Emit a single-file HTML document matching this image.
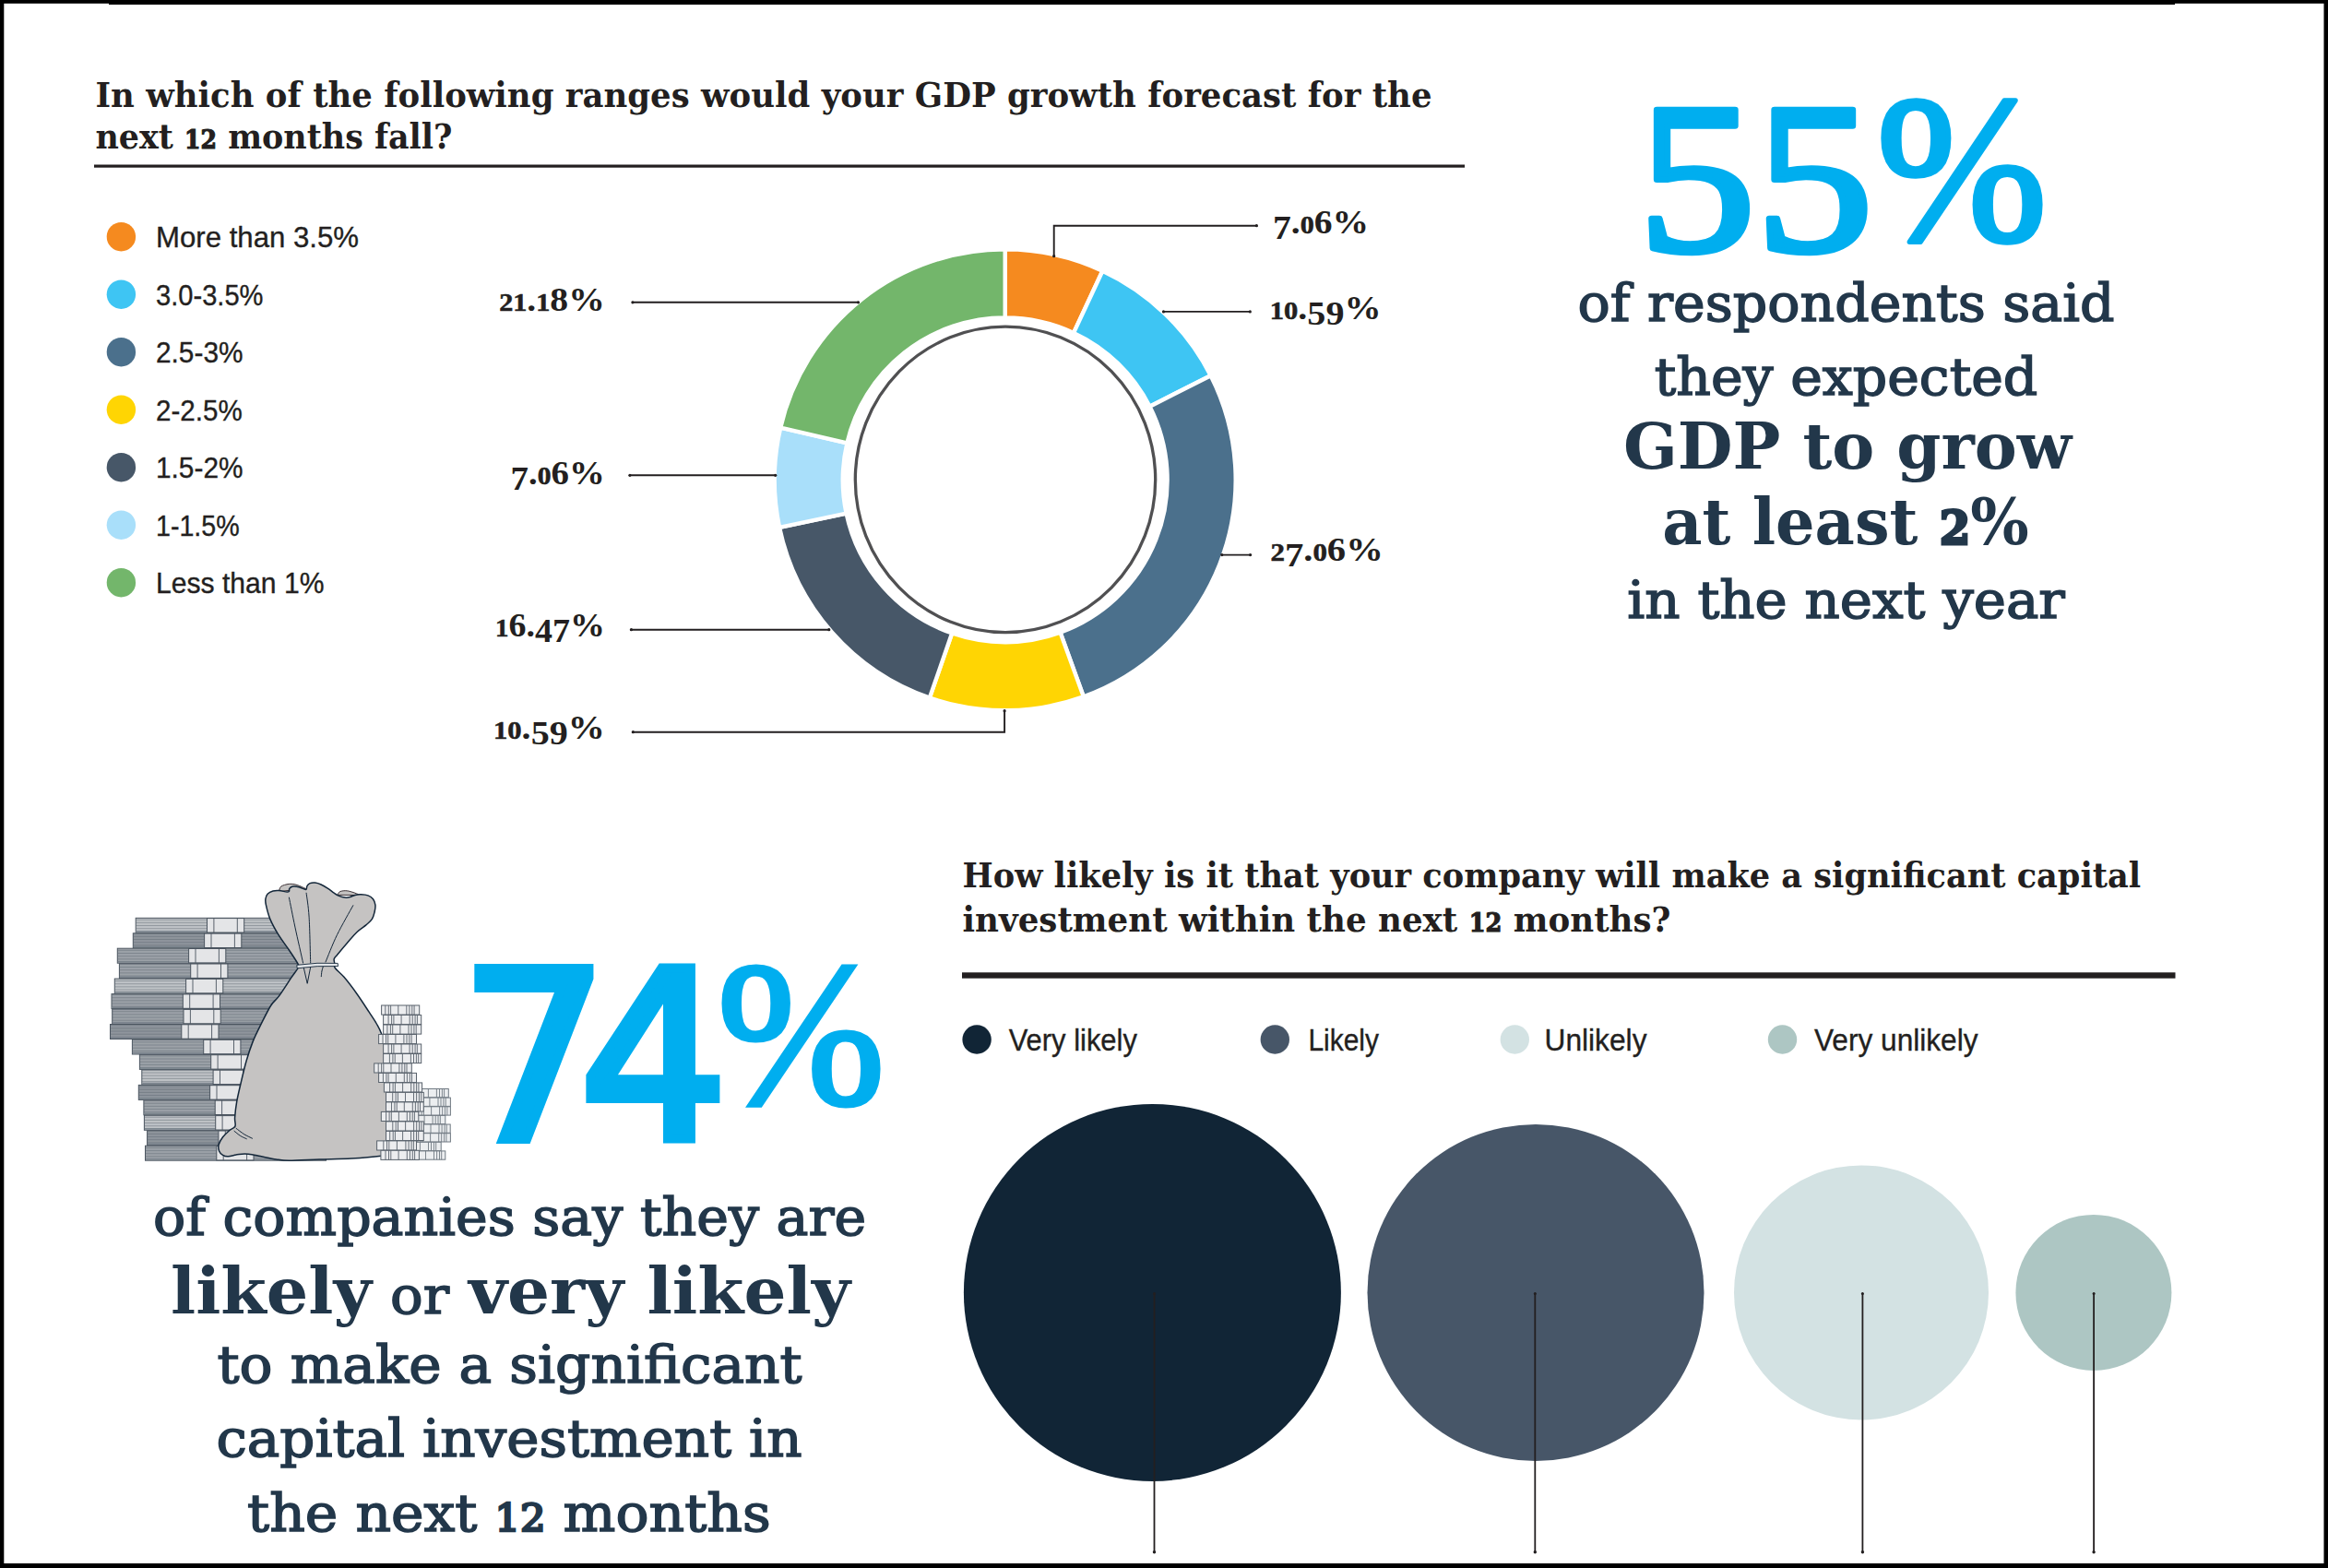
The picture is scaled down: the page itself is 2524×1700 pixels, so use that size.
<!DOCTYPE html>
<html lang="en"><head><meta charset="utf-8"><title>GDP growth forecast and capital investment survey</title>
<style>html,body{margin:0;padding:0;background:#fff}svg{display:block}text{white-space:pre}</style></head>
<body><svg width="2524" height="1700" viewBox="0 0 2524 1700">
<rect x="0" y="0" width="2524" height="1700" fill="#fff"/>
<rect x="0" y="0" width="2524" height="3.8" fill="#000"/><rect x="118" y="0" width="2240" height="5" fill="#000"/>
<rect x="0" y="0" width="4.3" height="1700" fill="#000"/>
<rect x="2519.5" y="0" width="4.5" height="1700" fill="#000"/>
<rect x="0" y="1695" width="2524" height="5" fill="#000"/>
<text x="103.5" y="116" font-size="37.7" font-family="'DejaVu Serif', 'Liberation Serif', serif" font-weight="bold" fill="#231f20" text-anchor="start" textLength="1449" lengthAdjust="spacingAndGlyphs" >In which of the following ranges would your GDP growth forecast for the</text>
<text x="103.5" y="161" font-size="37.7" font-family="'DejaVu Serif', 'Liberation Serif', serif" font-weight="bold" fill="#231f20" text-anchor="start" textLength="387" lengthAdjust="spacingAndGlyphs" >next <tspan font-size="27.1" stroke="#231f20" stroke-width="1.2">12</tspan> months fall?</text>
<rect x="102" y="178.5" width="1486" height="3.2" fill="#231f20"/>
<circle cx="131.4" cy="256.7" r="15.7" fill="#f58a1f"/>
<text x="169" y="268.0" font-size="31.5" font-family="'Liberation Sans', sans-serif" font-weight="normal" fill="#231f20" text-anchor="start" textLength="220" lengthAdjust="spacingAndGlyphs" stroke="#231f20" stroke-width="0.35">More than 3.5%</text>
<circle cx="131.4" cy="319.2" r="15.7" fill="#3ec5f3"/>
<text x="169" y="330.5" font-size="31.5" font-family="'Liberation Sans', sans-serif" font-weight="normal" fill="#231f20" text-anchor="start" textLength="116.5" lengthAdjust="spacingAndGlyphs" stroke="#231f20" stroke-width="0.35">3.0-3.5%</text>
<circle cx="131.4" cy="381.7" r="15.7" fill="#4b708c"/>
<text x="169" y="393.0" font-size="31.5" font-family="'Liberation Sans', sans-serif" font-weight="normal" fill="#231f20" text-anchor="start" textLength="94.5" lengthAdjust="spacingAndGlyphs" stroke="#231f20" stroke-width="0.35">2.5-3%</text>
<circle cx="131.4" cy="444.2" r="15.7" fill="#ffd503"/>
<text x="169" y="455.5" font-size="31.5" font-family="'Liberation Sans', sans-serif" font-weight="normal" fill="#231f20" text-anchor="start" textLength="93.7" lengthAdjust="spacingAndGlyphs" stroke="#231f20" stroke-width="0.35">2-2.5%</text>
<circle cx="131.4" cy="506.7" r="15.7" fill="#475768"/>
<text x="169" y="518.0" font-size="31.5" font-family="'Liberation Sans', sans-serif" font-weight="normal" fill="#231f20" text-anchor="start" textLength="94.5" lengthAdjust="spacingAndGlyphs" stroke="#231f20" stroke-width="0.35">1.5-2%</text>
<circle cx="131.4" cy="569.2" r="15.7" fill="#a9dffa"/>
<text x="169" y="580.5" font-size="31.5" font-family="'Liberation Sans', sans-serif" font-weight="normal" fill="#231f20" text-anchor="start" textLength="90.7" lengthAdjust="spacingAndGlyphs" stroke="#231f20" stroke-width="0.35">1-1.5%</text>
<circle cx="131.4" cy="631.7" r="15.7" fill="#73b66b"/>
<text x="169" y="643.0" font-size="31.5" font-family="'Liberation Sans', sans-serif" font-weight="normal" fill="#231f20" text-anchor="start" textLength="182.5" lengthAdjust="spacingAndGlyphs" stroke="#231f20" stroke-width="0.35">Less than 1%</text>
<path d="M1089.70,270.30 A250.0,250.0 0 0 1 1195.35,293.72 L1164.04,360.88 A175.9,175.9 0 0 0 1089.70,344.40 Z" fill="#f58a1f" stroke="#fff" stroke-width="4.4" stroke-linejoin="miter"/>
<path d="M1195.35,293.72 A250.0,250.0 0 0 1 1312.65,407.19 L1246.57,440.72 A175.9,175.9 0 0 0 1164.04,360.88 Z" fill="#3ec5f3" stroke="#fff" stroke-width="4.4" stroke-linejoin="miter"/>
<path d="M1312.65,407.19 A250.0,250.0 0 0 1 1174.79,755.37 L1149.57,685.70 A175.9,175.9 0 0 0 1246.57,440.72 Z" fill="#4b708c" stroke="#fff" stroke-width="4.4" stroke-linejoin="miter"/>
<path d="M1174.79,755.37 A250.0,250.0 0 0 1 1007.90,756.54 L1032.14,686.52 A175.9,175.9 0 0 0 1149.57,685.70 Z" fill="#ffd503" stroke="#fff" stroke-width="4.4" stroke-linejoin="miter"/>
<path d="M1007.90,756.54 A250.0,250.0 0 0 1 845.07,571.85 L917.58,556.57 A175.9,175.9 0 0 0 1032.14,686.52 Z" fill="#475768" stroke="#fff" stroke-width="4.4" stroke-linejoin="miter"/>
<path d="M845.07,571.85 A250.0,250.0 0 0 1 846.21,463.64 L918.38,480.43 A175.9,175.9 0 0 0 917.58,556.57 Z" fill="#a9dffa" stroke="#fff" stroke-width="4.4" stroke-linejoin="miter"/>
<path d="M846.21,463.64 A250.0,250.0 0 0 1 1089.70,270.30 L1089.70,344.40 A175.9,175.9 0 0 0 918.38,480.43 Z" fill="#73b66b" stroke="#fff" stroke-width="4.4" stroke-linejoin="miter"/>
<ellipse cx="1090" cy="519.9" rx="162.7" ry="165.75" fill="#fff" stroke="#505052" stroke-width="3.3"/>
<path d="M1142.7,277.7 L1142.7,244.7 L1362.4,244.7" fill="none" stroke="#231f20" stroke-width="1.9" stroke-linecap="round" stroke-linejoin="miter"/>
<circle cx="1142.7" cy="277.7" r="1.6" fill="#231f20"/>
<circle cx="1362.4" cy="244.7" r="1.6" fill="#231f20"/>
<path d="M1261.5,337.9 L1355.3,337.9" fill="none" stroke="#231f20" stroke-width="1.9" stroke-linecap="round" stroke-linejoin="miter"/>
<circle cx="1261.5" cy="337.9" r="1.6" fill="#231f20"/>
<circle cx="1355.3" cy="337.9" r="1.6" fill="#231f20"/>
<path d="M1324.8,601.6 L1355.6,601.6" fill="none" stroke="#231f20" stroke-width="1.9" stroke-linecap="round" stroke-linejoin="miter"/>
<circle cx="1324.8" cy="601.6" r="1.6" fill="#231f20"/>
<circle cx="1355.6" cy="601.6" r="1.6" fill="#231f20"/>
<path d="M685.9,327.8 L930.5,327.8" fill="none" stroke="#231f20" stroke-width="1.9" stroke-linecap="round" stroke-linejoin="miter"/>
<circle cx="685.9" cy="327.8" r="1.6" fill="#231f20"/>
<circle cx="930.5" cy="327.8" r="1.6" fill="#231f20"/>
<path d="M682.9,515.3 L840.7,515.3" fill="none" stroke="#231f20" stroke-width="1.9" stroke-linecap="round" stroke-linejoin="miter"/>
<circle cx="682.9" cy="515.3" r="1.6" fill="#231f20"/>
<circle cx="840.7" cy="515.3" r="1.6" fill="#231f20"/>
<path d="M684.4,682.7 L898.8,682.7" fill="none" stroke="#231f20" stroke-width="1.9" stroke-linecap="round" stroke-linejoin="miter"/>
<circle cx="684.4" cy="682.7" r="1.6" fill="#231f20"/>
<circle cx="898.8" cy="682.7" r="1.6" fill="#231f20"/>
<path d="M1089.1,770.7 L1089.1,793.7 L686.3,793.7" fill="none" stroke="#231f20" stroke-width="1.9" stroke-linecap="round" stroke-linejoin="miter"/>
<circle cx="1089.1" cy="770.7" r="1.6" fill="#231f20"/>
<circle cx="686.3" cy="793.7" r="1.6" fill="#231f20"/>
<text x="1380" y="252.6" font-size="36" font-family="'Liberation Serif', serif" font-weight="bold" fill="#231f20" text-anchor="start" textLength="104" lengthAdjust="spacingAndGlyphs" ><tspan dy="6.08">7</tspan><tspan dy="-6.08">.</tspan><tspan font-size="27.4" stroke="#231f20" stroke-width="0.55">0</tspan>6%</text>
<text x="1376.8" y="346" font-size="36" font-family="'Liberation Serif', serif" font-weight="bold" fill="#231f20" text-anchor="start" textLength="120.8" lengthAdjust="spacingAndGlyphs" ><tspan font-size="27.4" stroke="#231f20" stroke-width="0.55">10</tspan>.<tspan dy="6.08">59</tspan><tspan dy="-6.08">%</tspan></text>
<text x="1377.5" y="608" font-size="36" font-family="'Liberation Serif', serif" font-weight="bold" fill="#231f20" text-anchor="start" textLength="122.3" lengthAdjust="spacingAndGlyphs" ><tspan font-size="27.4" stroke="#231f20" stroke-width="0.55">2</tspan><tspan dy="6.08">7</tspan><tspan dy="-6.08">.</tspan><tspan font-size="27.4" stroke="#231f20" stroke-width="0.55">0</tspan>6%</text>
<text x="541.2" y="336.9" font-size="36" font-family="'Liberation Serif', serif" font-weight="bold" fill="#231f20" text-anchor="start" textLength="114.6" lengthAdjust="spacingAndGlyphs" ><tspan font-size="27.4" stroke="#231f20" stroke-width="0.55">21</tspan>.<tspan font-size="27.4" stroke="#231f20" stroke-width="0.55">1</tspan>8%</text>
<text x="553.6" y="525.3" font-size="36" font-family="'Liberation Serif', serif" font-weight="bold" fill="#231f20" text-anchor="start" textLength="102.2" lengthAdjust="spacingAndGlyphs" ><tspan dy="6.08">7</tspan><tspan dy="-6.08">.</tspan><tspan font-size="27.4" stroke="#231f20" stroke-width="0.55">0</tspan>6%</text>
<text x="537" y="690.1" font-size="36" font-family="'Liberation Serif', serif" font-weight="bold" fill="#231f20" text-anchor="start" textLength="118.9" lengthAdjust="spacingAndGlyphs" ><tspan font-size="27.4" stroke="#231f20" stroke-width="0.55">1</tspan>6.<tspan dy="6.08">47</tspan><tspan dy="-6.08">%</tspan></text>
<text x="535.1" y="801.4" font-size="36" font-family="'Liberation Serif', serif" font-weight="bold" fill="#231f20" text-anchor="start" textLength="120.8" lengthAdjust="spacingAndGlyphs" ><tspan font-size="27.4" stroke="#231f20" stroke-width="0.55">10</tspan>.<tspan dy="6.08">59</tspan><tspan dy="-6.08">%</tspan></text>
<text y="272" font-size="233" font-family="'Liberation Serif', serif" fill="#00aeef" stroke="#00aeef" stroke-width="6.5" stroke-linejoin="round"><tspan x="1776" textLength="255" lengthAdjust="spacingAndGlyphs">55</tspan><tspan x="2034.5" y="260" font-size="226" stroke-width="5.5" textLength="185" lengthAdjust="spacingAndGlyphs">%</tspan></text>
<text x="2001.5" y="347.5" font-size="56.6" font-family="'DejaVu Serif', 'Liberation Serif', serif" font-weight="normal" fill="#22374a" text-anchor="middle" textLength="582" lengthAdjust="spacingAndGlyphs" stroke="#22374a" stroke-width="1.5">of respondents said</text>
<text x="2001.5" y="428.3" font-size="56.6" font-family="'DejaVu Serif', 'Liberation Serif', serif" font-weight="normal" fill="#22374a" text-anchor="middle" textLength="415.4" lengthAdjust="spacingAndGlyphs" stroke="#22374a" stroke-width="1.5">they expected</text>
<text x="2003" y="507.7" font-size="69" font-family="'DejaVu Serif', 'Liberation Serif', serif" font-weight="bold" fill="#22374a" text-anchor="middle" textLength="486" lengthAdjust="spacingAndGlyphs" >GDP to grow</text>
<text x="2001" y="589.8" font-size="69" font-family="'DejaVu Serif', 'Liberation Serif', serif" font-weight="bold" fill="#22374a" text-anchor="middle" textLength="397.6" lengthAdjust="spacingAndGlyphs" >at least <tspan font-size="49.7" stroke="#22374a" stroke-width="3.0">2</tspan>%</text>
<text x="2001.5" y="669.5" font-size="56.6" font-family="'DejaVu Serif', 'Liberation Serif', serif" font-weight="normal" fill="#22374a" text-anchor="middle" textLength="474.4" lengthAdjust="spacingAndGlyphs" stroke="#22374a" stroke-width="1.5">in the next year</text>
<text y="1235" fill="#00aeef" stroke="#00aeef" stroke-linejoin="miter"><tspan x="498.5 628" font-size="254" font-family="'DejaVu Sans', 'Liberation Sans', sans-serif" stroke-width="10">74</tspan><tspan x="777.5" y="1195.7" font-size="222" font-family="'Liberation Serif', serif" stroke-width="5" textLength="182" lengthAdjust="spacingAndGlyphs">%</tspan></text>
<text x="552.6" y="1338.6" font-size="56.6" font-family="'DejaVu Serif', 'Liberation Serif', serif" font-weight="normal" fill="#22374a" text-anchor="middle" textLength="773.2" lengthAdjust="spacingAndGlyphs" stroke="#22374a" stroke-width="1.5">of companies say they are</text>
<text y="1424" font-size="69" font-family="'DejaVu Serif', 'Liberation Serif', serif" fill="#22374a"><tspan x="185" font-weight="bold" textLength="218" lengthAdjust="spacingAndGlyphs">likely</tspan><tspan font-size="56.6" stroke="#22374a" stroke-width="1.5"> </tspan><tspan x="423" font-size="56.6" stroke="#22374a" stroke-width="1.5" textLength="64" lengthAdjust="spacingAndGlyphs">or</tspan><tspan font-size="56.6"> </tspan><tspan x="508" font-weight="bold" textLength="414" lengthAdjust="spacingAndGlyphs">very likely</tspan></text>
<text x="552.6" y="1499.1" font-size="56.6" font-family="'DejaVu Serif', 'Liberation Serif', serif" font-weight="normal" fill="#22374a" text-anchor="middle" textLength="634" lengthAdjust="spacingAndGlyphs" stroke="#22374a" stroke-width="1.5">to make a significant</text>
<text x="552.0" y="1578.5" font-size="56.6" font-family="'DejaVu Serif', 'Liberation Serif', serif" font-weight="normal" fill="#22374a" text-anchor="middle" textLength="635.1" lengthAdjust="spacingAndGlyphs" stroke="#22374a" stroke-width="1.5">capital investment in</text>
<text x="551.9" y="1659.7" font-size="56.6" font-family="'DejaVu Serif', 'Liberation Serif', serif" font-weight="normal" fill="#22374a" text-anchor="middle" textLength="567.6" lengthAdjust="spacingAndGlyphs" stroke="#22374a" stroke-width="1.5">the next <tspan font-size="40.8" stroke="#22374a" stroke-width="2.6">12</tspan> months</text>
<text x="1043.5" y="961.6" font-size="37.7" font-family="'DejaVu Serif', 'Liberation Serif', serif" font-weight="bold" fill="#231f20" text-anchor="start" textLength="1277.6" lengthAdjust="spacingAndGlyphs" >How likely is it that your company will make a significant capital</text>
<text x="1043.5" y="1009.75" font-size="37.7" font-family="'DejaVu Serif', 'Liberation Serif', serif" font-weight="bold" fill="#231f20" text-anchor="start" textLength="768" lengthAdjust="spacingAndGlyphs" >investment within the next <tspan font-size="27.1" stroke="#231f20" stroke-width="1.2">12</tspan> months?</text>
<rect x="1043" y="1054.3" width="1315.5" height="6.4" fill="#231f20"/>
<circle cx="1059.1" cy="1127" r="15.7" fill="#112536"/>
<text x="1093.7" y="1139" font-size="32.4" font-family="'Liberation Sans', sans-serif" font-weight="normal" fill="#231f20" text-anchor="start" textLength="139.2" lengthAdjust="spacingAndGlyphs" stroke="#231f20" stroke-width="0.35">Very likely</text>
<circle cx="1382.3" cy="1127" r="15.7" fill="#475668"/>
<text x="1418.4" y="1139" font-size="32.4" font-family="'Liberation Sans', sans-serif" font-weight="normal" fill="#231f20" text-anchor="start" textLength="76.6" lengthAdjust="spacingAndGlyphs" stroke="#231f20" stroke-width="0.35">Likely</text>
<circle cx="1642.3" cy="1127" r="15.7" fill="#d3e2e3"/>
<text x="1674.5" y="1139" font-size="32.4" font-family="'Liberation Sans', sans-serif" font-weight="normal" fill="#231f20" text-anchor="start" textLength="111" lengthAdjust="spacingAndGlyphs" stroke="#231f20" stroke-width="0.35">Unlikely</text>
<circle cx="1932.5" cy="1127" r="15.7" fill="#adc6c3"/>
<text x="1967" y="1139" font-size="32.4" font-family="'Liberation Sans', sans-serif" font-weight="normal" fill="#231f20" text-anchor="start" textLength="177.5" lengthAdjust="spacingAndGlyphs" stroke="#231f20" stroke-width="0.35">Very unlikely</text>
<circle cx="1249.4" cy="1401.4" r="204.5" fill="#112536"/>
<circle cx="1665" cy="1401.4" r="182.5" fill="#475668"/>
<circle cx="2018" cy="1401.4" r="138" fill="#d3e2e3"/>
<circle cx="2269.9" cy="1401.4" r="84.5" fill="#adc6c3"/>
<path d="M1251.5,1402.5 L1251.5,1682.7" fill="none" stroke="#231f20" stroke-width="1.8" stroke-linecap="round" stroke-linejoin="miter"/>
<circle cx="1251.5" cy="1402.5" r="1.5" fill="#231f20"/><circle cx="1251.5" cy="1682.7" r="1.7" fill="#231f20"/>
<path d="M1664.3,1402.5 L1664.3,1682.7" fill="none" stroke="#231f20" stroke-width="1.8" stroke-linecap="round" stroke-linejoin="miter"/>
<circle cx="1664.3" cy="1402.5" r="1.5" fill="#231f20"/><circle cx="1664.3" cy="1682.7" r="1.7" fill="#231f20"/>
<path d="M2019.4,1402.5 L2019.4,1682.7" fill="none" stroke="#231f20" stroke-width="1.8" stroke-linecap="round" stroke-linejoin="miter"/>
<circle cx="2019.4" cy="1402.5" r="1.5" fill="#231f20"/><circle cx="2019.4" cy="1682.7" r="1.7" fill="#231f20"/>
<path d="M2270.1,1402.5 L2270.1,1682.7" fill="none" stroke="#231f20" stroke-width="1.8" stroke-linecap="round" stroke-linejoin="miter"/>
<circle cx="2270.1" cy="1402.5" r="1.5" fill="#231f20"/><circle cx="2270.1" cy="1682.7" r="1.7" fill="#231f20"/>
<g stroke-linejoin="miter">
<rect x="147.2" y="995.3" width="196" height="16" fill="#eff0f1" stroke="#4a545f" stroke-width="1"/>
<path d="M147.2,996.20h196M147.2,997.66h196M147.2,999.12h196M147.2,1000.58h196M147.2,1002.04h196M147.2,1003.50h196M147.2,1004.96h196M147.2,1006.42h196M147.2,1007.88h196M147.2,1009.34h196" stroke="#57616b" stroke-width="0.62" fill="none"/>
<rect x="147.7" y="1009.1" width="195" height="1.7" fill="#7b848d"/>
<rect x="224.5" y="995.6" width="40.2" height="15.4" fill="#e4e5e7" stroke="#4a545f" stroke-width="1"/>
<path d="M231.9,995.6v15.4M257.3,995.6v15.4" stroke="#4a545f" stroke-width="0.9" fill="none"/>
<rect x="144.3" y="1011.8" width="196" height="16" fill="#a9aeb4" stroke="#4a545f" stroke-width="1"/>
<path d="M144.3,1012.66h196M144.3,1014.12h196M144.3,1015.58h196M144.3,1017.04h196M144.3,1018.50h196M144.3,1019.96h196M144.3,1021.42h196M144.3,1022.88h196M144.3,1024.34h196M144.3,1025.80h196" stroke="#57616b" stroke-width="0.62" fill="none"/>
<rect x="144.8" y="1025.6" width="195" height="1.7" fill="#7b848d"/>
<rect x="221.6" y="1012.1" width="40.2" height="15.4" fill="#e4e5e7" stroke="#4a545f" stroke-width="1"/>
<path d="M229.0,1012.1v15.4M254.4,1012.1v15.4" stroke="#4a545f" stroke-width="0.9" fill="none"/>
<rect x="127.3" y="1028.2" width="196" height="16" fill="#bcc0c5" stroke="#4a545f" stroke-width="1"/>
<path d="M127.3,1029.12h196M127.3,1030.58h196M127.3,1032.04h196M127.3,1033.50h196M127.3,1034.96h196M127.3,1036.42h196M127.3,1037.88h196M127.3,1039.34h196M127.3,1040.80h196M127.3,1042.26h196" stroke="#57616b" stroke-width="0.62" fill="none"/>
<rect x="127.8" y="1042.0" width="195" height="1.7" fill="#7b848d"/>
<rect x="204.6" y="1028.5" width="40.2" height="15.4" fill="#e4e5e7" stroke="#4a545f" stroke-width="1"/>
<path d="M212.0,1028.5v15.4M237.4,1028.5v15.4" stroke="#4a545f" stroke-width="0.9" fill="none"/>
<rect x="129.4" y="1044.7" width="196" height="16" fill="#bcc0c5" stroke="#4a545f" stroke-width="1"/>
<path d="M129.4,1045.58h196M129.4,1047.04h196M129.4,1048.50h196M129.4,1049.96h196M129.4,1051.42h196M129.4,1052.88h196M129.4,1054.34h196M129.4,1055.80h196M129.4,1057.26h196M129.4,1058.72h196" stroke="#57616b" stroke-width="0.62" fill="none"/>
<rect x="129.9" y="1058.5" width="195" height="1.7" fill="#7b848d"/>
<rect x="206.7" y="1045.0" width="40.2" height="15.4" fill="#e4e5e7" stroke="#4a545f" stroke-width="1"/>
<path d="M214.1,1045.0v15.4M239.5,1045.0v15.4" stroke="#4a545f" stroke-width="0.9" fill="none"/>
<rect x="124.3" y="1061.1" width="196" height="16" fill="#eff0f1" stroke="#4a545f" stroke-width="1"/>
<path d="M124.3,1062.04h196M124.3,1063.50h196M124.3,1064.96h196M124.3,1066.42h196M124.3,1067.88h196M124.3,1069.34h196M124.3,1070.80h196M124.3,1072.26h196M124.3,1073.72h196M124.3,1075.18h196" stroke="#57616b" stroke-width="0.62" fill="none"/>
<rect x="124.8" y="1074.9" width="195" height="1.7" fill="#7b848d"/>
<rect x="201.6" y="1061.4" width="40.2" height="15.4" fill="#e4e5e7" stroke="#4a545f" stroke-width="1"/>
<path d="M209.0,1061.4v15.4M234.4,1061.4v15.4" stroke="#4a545f" stroke-width="0.9" fill="none"/>
<rect x="121.0" y="1077.6" width="196" height="16" fill="#bcc0c5" stroke="#4a545f" stroke-width="1"/>
<path d="M121.0,1078.50h196M121.0,1079.96h196M121.0,1081.42h196M121.0,1082.88h196M121.0,1084.34h196M121.0,1085.80h196M121.0,1087.26h196M121.0,1088.72h196M121.0,1090.18h196M121.0,1091.64h196" stroke="#57616b" stroke-width="0.62" fill="none"/>
<rect x="121.5" y="1091.4" width="195" height="1.7" fill="#7b848d"/>
<rect x="198.3" y="1077.9" width="40.2" height="15.4" fill="#e4e5e7" stroke="#4a545f" stroke-width="1"/>
<path d="M205.7,1077.9v15.4M231.1,1077.9v15.4" stroke="#4a545f" stroke-width="0.9" fill="none"/>
<rect x="121.7" y="1094.1" width="196" height="16" fill="#bcc0c5" stroke="#4a545f" stroke-width="1"/>
<path d="M121.7,1094.96h196M121.7,1096.42h196M121.7,1097.88h196M121.7,1099.34h196M121.7,1100.80h196M121.7,1102.26h196M121.7,1103.72h196M121.7,1105.18h196M121.7,1106.64h196M121.7,1108.10h196" stroke="#57616b" stroke-width="0.62" fill="none"/>
<rect x="122.2" y="1107.9" width="195" height="1.7" fill="#7b848d"/>
<rect x="199.0" y="1094.4" width="40.2" height="15.4" fill="#e4e5e7" stroke="#4a545f" stroke-width="1"/>
<path d="M206.4,1094.4v15.4M231.8,1094.4v15.4" stroke="#4a545f" stroke-width="0.9" fill="none"/>
<rect x="119.5" y="1110.5" width="196" height="16" fill="#a9aeb4" stroke="#4a545f" stroke-width="1"/>
<path d="M119.5,1111.42h196M119.5,1112.88h196M119.5,1114.34h196M119.5,1115.80h196M119.5,1117.26h196M119.5,1118.72h196M119.5,1120.18h196M119.5,1121.64h196M119.5,1123.10h196M119.5,1124.56h196" stroke="#57616b" stroke-width="0.62" fill="none"/>
<rect x="120.0" y="1124.3" width="195" height="1.7" fill="#7b848d"/>
<rect x="196.8" y="1110.8" width="40.2" height="15.4" fill="#e4e5e7" stroke="#4a545f" stroke-width="1"/>
<path d="M204.2,1110.8v15.4M229.6,1110.8v15.4" stroke="#4a545f" stroke-width="0.9" fill="none"/>
<rect x="143.4" y="1127.0" width="196" height="16" fill="#bcc0c5" stroke="#4a545f" stroke-width="1"/>
<path d="M143.4,1127.88h196M143.4,1129.34h196M143.4,1130.80h196M143.4,1132.26h196M143.4,1133.72h196M143.4,1135.18h196M143.4,1136.64h196M143.4,1138.10h196M143.4,1139.56h196M143.4,1141.02h196" stroke="#57616b" stroke-width="0.62" fill="none"/>
<rect x="143.9" y="1140.8" width="195" height="1.7" fill="#7b848d"/>
<rect x="220.7" y="1127.3" width="40.2" height="15.4" fill="#e4e5e7" stroke="#4a545f" stroke-width="1"/>
<path d="M228.1,1127.3v15.4M253.5,1127.3v15.4" stroke="#4a545f" stroke-width="0.9" fill="none"/>
<rect x="151.4" y="1143.4" width="196" height="16" fill="#bcc0c5" stroke="#4a545f" stroke-width="1"/>
<path d="M151.4,1144.34h196M151.4,1145.80h196M151.4,1147.26h196M151.4,1148.72h196M151.4,1150.18h196M151.4,1151.64h196M151.4,1153.10h196M151.4,1154.56h196M151.4,1156.02h196M151.4,1157.48h196" stroke="#57616b" stroke-width="0.62" fill="none"/>
<rect x="151.9" y="1157.2" width="195" height="1.7" fill="#7b848d"/>
<rect x="228.7" y="1143.7" width="40.2" height="15.4" fill="#e4e5e7" stroke="#4a545f" stroke-width="1"/>
<path d="M236.1,1143.7v15.4M261.5,1143.7v15.4" stroke="#4a545f" stroke-width="0.9" fill="none"/>
<rect x="153.8" y="1159.9" width="196" height="16" fill="#eff0f1" stroke="#4a545f" stroke-width="1"/>
<path d="M153.8,1160.80h196M153.8,1162.26h196M153.8,1163.72h196M153.8,1165.18h196M153.8,1166.64h196M153.8,1168.10h196M153.8,1169.56h196M153.8,1171.02h196M153.8,1172.48h196M153.8,1173.94h196" stroke="#57616b" stroke-width="0.62" fill="none"/>
<rect x="154.3" y="1173.7" width="195" height="1.7" fill="#7b848d"/>
<rect x="231.1" y="1160.2" width="40.2" height="15.4" fill="#e4e5e7" stroke="#4a545f" stroke-width="1"/>
<path d="M238.5,1160.2v15.4M263.9,1160.2v15.4" stroke="#4a545f" stroke-width="0.9" fill="none"/>
<rect x="150.3" y="1176.4" width="196" height="16" fill="#a9aeb4" stroke="#4a545f" stroke-width="1"/>
<path d="M150.3,1177.26h196M150.3,1178.72h196M150.3,1180.18h196M150.3,1181.64h196M150.3,1183.10h196M150.3,1184.56h196M150.3,1186.02h196M150.3,1187.48h196M150.3,1188.94h196M150.3,1190.40h196" stroke="#57616b" stroke-width="0.62" fill="none"/>
<rect x="150.8" y="1190.2" width="195" height="1.7" fill="#7b848d"/>
<rect x="227.6" y="1176.7" width="40.2" height="15.4" fill="#e4e5e7" stroke="#4a545f" stroke-width="1"/>
<path d="M235.0,1176.7v15.4M260.4,1176.7v15.4" stroke="#4a545f" stroke-width="0.9" fill="none"/>
<rect x="155.9" y="1192.8" width="196" height="16" fill="#bcc0c5" stroke="#4a545f" stroke-width="1"/>
<path d="M155.9,1193.72h196M155.9,1195.18h196M155.9,1196.64h196M155.9,1198.10h196M155.9,1199.56h196M155.9,1201.02h196M155.9,1202.48h196M155.9,1203.94h196M155.9,1205.40h196M155.9,1206.86h196" stroke="#57616b" stroke-width="0.62" fill="none"/>
<rect x="156.4" y="1206.6" width="195" height="1.7" fill="#7b848d"/>
<rect x="233.2" y="1193.1" width="40.2" height="15.4" fill="#e4e5e7" stroke="#4a545f" stroke-width="1"/>
<path d="M240.6,1193.1v15.4M266.0,1193.1v15.4" stroke="#4a545f" stroke-width="0.9" fill="none"/>
<rect x="156.4" y="1209.3" width="196" height="16" fill="#eff0f1" stroke="#4a545f" stroke-width="1"/>
<path d="M156.4,1210.18h196M156.4,1211.64h196M156.4,1213.10h196M156.4,1214.56h196M156.4,1216.02h196M156.4,1217.48h196M156.4,1218.94h196M156.4,1220.40h196M156.4,1221.86h196M156.4,1223.32h196" stroke="#57616b" stroke-width="0.62" fill="none"/>
<rect x="156.9" y="1223.1" width="195" height="1.7" fill="#7b848d"/>
<rect x="233.7" y="1209.6" width="40.2" height="15.4" fill="#e4e5e7" stroke="#4a545f" stroke-width="1"/>
<path d="M241.1,1209.6v15.4M266.5,1209.6v15.4" stroke="#4a545f" stroke-width="0.9" fill="none"/>
<rect x="159.6" y="1225.7" width="196" height="16" fill="#a9aeb4" stroke="#4a545f" stroke-width="1"/>
<path d="M159.6,1226.64h196M159.6,1228.10h196M159.6,1229.56h196M159.6,1231.02h196M159.6,1232.48h196M159.6,1233.94h196M159.6,1235.40h196M159.6,1236.86h196M159.6,1238.32h196M159.6,1239.78h196" stroke="#57616b" stroke-width="0.62" fill="none"/>
<rect x="160.1" y="1239.5" width="195" height="1.7" fill="#7b848d"/>
<rect x="236.9" y="1226.0" width="40.2" height="15.4" fill="#e4e5e7" stroke="#4a545f" stroke-width="1"/>
<path d="M244.3,1226.0v15.4M269.7,1226.0v15.4" stroke="#4a545f" stroke-width="0.9" fill="none"/>
<rect x="157.5" y="1242.2" width="196" height="16" fill="#bcc0c5" stroke="#4a545f" stroke-width="1"/>
<path d="M157.5,1243.10h196M157.5,1244.56h196M157.5,1246.02h196M157.5,1247.48h196M157.5,1248.94h196M157.5,1250.40h196M157.5,1251.86h196M157.5,1253.32h196M157.5,1254.78h196M157.5,1256.24h196" stroke="#57616b" stroke-width="0.62" fill="none"/>
<rect x="158.0" y="1256.0" width="195" height="1.7" fill="#7b848d"/>
<rect x="234.8" y="1242.5" width="40.2" height="15.4" fill="#e4e5e7" stroke="#4a545f" stroke-width="1"/>
<path d="M242.2,1242.5v15.4M267.6,1242.5v15.4" stroke="#4a545f" stroke-width="0.9" fill="none"/>
</g>
<path d="M302.5,966.5 C302.9,965.6 302.9,962.5 304.7,961.1 C306.5,959.8 310.5,958.7 313.4,958.4 C316.3,958.1 319.1,958.6 322.1,959.5 C325.1,960.4 329.9,962.8 331.5,963.5 Z" fill="#c5c3c2" stroke="#3a2f33" stroke-width="1"/>
<path d="M366.0,970.3 C366.4,969.7 367.0,967.4 368.7,966.6 C370.4,965.9 373.6,965.5 376.3,965.8 C379.0,966.1 382.6,967.4 384.9,968.2 C387.2,969.0 389.4,970.1 390.3,970.5 Z" fill="#c5c3c2" stroke="#3a2f33" stroke-width="1"/>
<path d="M323.1,1045.2 C321.5,1042.0 317.0,1035.4 313.4,1030.0 C309.8,1024.6 304.8,1018.3 301.4,1012.7 C298.0,1007.1 295.0,1001.6 292.8,996.4 C290.6,991.1 289.2,984.8 288.4,981.2 C287.6,977.6 287.6,976.7 287.9,974.7 C288.2,972.7 288.8,970.8 290.1,969.3 C291.5,967.8 293.9,966.6 296.0,966.0 C298.1,965.4 300.0,965.3 302.5,965.5 C305.0,965.7 309.4,967.0 311.2,967.1 C313.0,967.2 313.1,966.8 313.5,966.2 C313.9,965.6 313.2,964.1 313.9,963.3 C314.6,962.4 316.0,961.4 317.7,961.1 C319.4,960.8 321.9,961.1 324.2,961.7 C326.5,962.3 330.2,964.8 331.6,964.6 C333.1,964.4 332.1,961.8 332.9,960.6 C333.6,959.4 334.7,958.2 336.1,957.6 C337.6,957.0 339.6,956.9 341.6,957.1 C343.6,957.3 345.8,958.0 348.1,959.0 C350.5,960.0 353.4,961.8 355.7,963.3 C358.0,964.8 360.2,966.9 362.2,968.2 C364.2,969.6 365.6,970.6 367.6,971.4 C369.6,972.2 372.1,972.9 374.1,973.1 C376.1,973.3 377.7,973.0 379.5,972.5 C381.3,972.0 382.9,970.9 384.9,970.4 C386.9,969.9 389.1,969.7 391.5,969.8 C393.9,969.9 396.8,970.1 399.0,970.9 C401.2,971.7 403.2,973.0 404.5,974.7 C405.8,976.4 406.6,978.9 406.9,981.2 C407.2,983.6 406.7,986.3 406.1,988.8 C405.5,991.3 404.9,994.0 403.4,996.4 C401.9,998.8 399.6,1000.5 396.9,1002.9 C394.2,1005.2 390.5,1007.2 387.1,1010.5 C383.7,1013.8 379.9,1018.2 376.3,1022.4 C372.7,1026.5 367.8,1032.5 365.4,1035.4 C363.0,1038.3 362.6,1038.3 362.2,1039.8 C361.8,1041.2 362.5,1042.5 362.7,1044.1 C362.9,1045.7 361.6,1047.0 363.3,1049.5 C365.0,1052.0 369.0,1054.6 373.0,1059.3 C377.0,1064.0 382.6,1071.4 387.1,1077.7 C391.6,1084.0 396.6,1091.8 400.1,1097.2 C403.6,1102.6 406.0,1106.0 408.3,1110.0 C410.6,1114.0 411.2,1114.6 413.8,1121.3 C416.4,1128.0 421.0,1138.5 424.0,1150.0 C427.0,1161.5 430.3,1176.7 432.0,1190.0 C433.7,1203.3 434.7,1220.0 434.0,1230.0 C433.3,1240.0 431.4,1246.1 428.0,1250.0 C424.6,1253.9 421.2,1252.2 413.3,1253.2 C405.4,1254.2 392.0,1255.3 380.8,1255.9 C369.6,1256.5 357.2,1256.6 346.0,1257.0 C334.8,1257.4 321.2,1258.2 313.5,1258.2 C305.8,1258.2 304.8,1257.8 299.6,1257.0 C294.4,1256.2 287.2,1254.5 282.2,1253.5 C277.2,1252.5 273.3,1251.5 269.4,1251.2 C265.5,1250.9 262.7,1251.0 259.0,1251.4 C255.3,1251.8 250.3,1253.6 247.4,1253.8 C244.5,1254.0 243.2,1253.4 241.6,1252.4 C239.9,1251.4 238.2,1249.6 237.5,1247.7 C236.8,1245.8 236.5,1243.3 237.2,1240.8 C237.9,1238.3 239.7,1235.2 241.6,1232.7 C243.5,1230.2 246.4,1227.6 248.6,1225.7 C250.8,1223.8 253.9,1223.4 254.9,1221.1 C255.9,1218.8 254.3,1216.2 254.6,1211.8 C254.9,1207.3 255.6,1200.8 256.7,1194.4 C257.8,1188.0 259.6,1180.8 261.3,1173.5 C263.0,1166.2 265.0,1157.6 267.1,1150.3 C269.2,1143.0 271.4,1136.2 274.1,1129.4 C276.8,1122.6 280.1,1116.3 283.4,1109.7 C286.7,1103.1 290.6,1095.0 293.8,1090.0 C297.0,1085.0 298.9,1084.8 302.5,1079.9 C306.1,1075.0 312.1,1065.5 315.5,1060.4 C318.9,1055.3 321.8,1052.0 323.1,1049.5 C324.4,1047.0 324.7,1048.5 323.1,1045.2Z" fill="#c5c3c2" stroke="#14273a" stroke-width="1.5" stroke-linejoin="round"/>
<path d="M313.4,973.1 C314.5,978.4 317.4,993.3 319.9,1005.1 C322.4,1016.9 327.2,1037.6 328.6,1044.1" fill="none" stroke="#14273a" stroke-width="1" stroke-linecap="round"/>
<path d="M332.1,968.2 C332.6,972.5 334.3,981.6 335.1,994.2 C335.9,1006.9 336.4,1035.8 336.7,1044.1" fill="none" stroke="#14273a" stroke-width="1" stroke-linecap="round"/>
<path d="M382.8,981.7 C379.9,987.0 370.4,1003.5 365.4,1013.7 C360.4,1023.9 355.1,1038.1 353.0,1043.0" fill="none" stroke="#14273a" stroke-width="1" stroke-linecap="round"/>
<path d="M350.2,1048.4 C350.0,1049.2 349.2,1051.3 348.9,1053.0 C348.6,1054.7 348.4,1057.8 348.3,1058.7" fill="none" stroke="#14273a" stroke-width="1" stroke-linecap="round"/>
<path d="M256.1,1223.4 C257.6,1224.5 261.9,1228.0 264.8,1229.8 C267.7,1231.6 272.1,1233.5 273.5,1234.2" fill="none" stroke="#14273a" stroke-width="1" stroke-linecap="round"/>
<path d="M254.0,1226.3 C255.1,1227.2 258.5,1230.1 260.7,1231.5 C262.9,1232.9 266.2,1234.2 267.3,1234.7" fill="none" stroke="#14273a" stroke-width="1" stroke-linecap="round"/>
<path d="M329.1,1048.4 L333.2,1066.3 L336.7,1048.4" fill="none" stroke="#14273a" stroke-width="1" stroke-linejoin="round"/>
<path d="M321.8,1046.3 Q344,1043.2 366.2,1044.4 L366.5,1047.6 Q344,1046.6 322.2,1049.8 Z" fill="#e3e6e9" stroke="#14273a" stroke-width="0.9" stroke-linejoin="round"/>
<rect x="445.3" y="1180.5" width="41.0" height="9.3" fill="#eceef0" stroke="#707982" stroke-width="1"/>
<path d="M450.5,1180.5v9.3M453.9,1180.5v9.3M456.2,1180.5v9.3M464.4,1180.5v9.3M473.4,1180.5v9.3M476.5,1180.5v9.3M479.4,1180.5v9.3M481.6,1180.5v9.3" stroke="#707982" stroke-width="0.9" fill="none"/>
<rect x="447.4" y="1190.1" width="41.0" height="9.3" fill="#eceef0" stroke="#707982" stroke-width="1"/>
<path d="M452.0,1190.1v9.3M455.5,1190.1v9.3M457.7,1190.1v9.3M465.9,1190.1v9.3M475.0,1190.1v9.3M478.0,1190.1v9.3M480.9,1190.1v9.3M483.2,1190.1v9.3" stroke="#707982" stroke-width="0.9" fill="none"/>
<rect x="447.4" y="1199.8" width="41.0" height="9.3" fill="#eceef0" stroke="#707982" stroke-width="1"/>
<path d="M453.6,1199.8v9.3M457.1,1199.8v9.3M459.4,1199.8v9.3M467.6,1199.8v9.3M476.6,1199.8v9.3M479.7,1199.8v9.3M482.5,1199.8v9.3M484.8,1199.8v9.3" stroke="#707982" stroke-width="0.9" fill="none"/>
<rect x="441.8" y="1209.4" width="41.0" height="9.3" fill="#eceef0" stroke="#707982" stroke-width="1"/>
<path d="M446.1,1209.4v9.3M449.6,1209.4v9.3M451.9,1209.4v9.3M460.1,1209.4v9.3M469.1,1209.4v9.3M472.2,1209.4v9.3M475.0,1209.4v9.3M477.3,1209.4v9.3" stroke="#707982" stroke-width="0.9" fill="none"/>
<rect x="447.2" y="1219.0" width="41.0" height="9.3" fill="#eceef0" stroke="#707982" stroke-width="1"/>
<path d="M453.1,1219.0v9.3M456.5,1219.0v9.3M458.8,1219.0v9.3M467.0,1219.0v9.3M476.0,1219.0v9.3M479.1,1219.0v9.3M482.0,1219.0v9.3M484.2,1219.0v9.3" stroke="#707982" stroke-width="0.9" fill="none"/>
<rect x="447.4" y="1228.7" width="41.0" height="9.3" fill="#eceef0" stroke="#707982" stroke-width="1"/>
<path d="M452.7,1228.7v9.3M456.2,1228.7v9.3M458.4,1228.7v9.3M466.6,1228.7v9.3M475.7,1228.7v9.3M478.7,1228.7v9.3M481.6,1228.7v9.3M483.9,1228.7v9.3" stroke="#707982" stroke-width="0.9" fill="none"/>
<rect x="437.2" y="1238.3" width="41.0" height="9.3" fill="#eceef0" stroke="#707982" stroke-width="1"/>
<path d="M441.5,1238.3v9.3M445.0,1238.3v9.3M447.2,1238.3v9.3M455.4,1238.3v9.3M464.5,1238.3v9.3M467.5,1238.3v9.3M470.4,1238.3v9.3M472.7,1238.3v9.3" stroke="#707982" stroke-width="0.9" fill="none"/>
<rect x="441.8" y="1247.9" width="41.0" height="9.3" fill="#eceef0" stroke="#707982" stroke-width="1"/>
<path d="M447.6,1247.9v9.3M451.0,1247.9v9.3M453.3,1247.9v9.3M461.5,1247.9v9.3M470.5,1247.9v9.3M473.6,1247.9v9.3M476.5,1247.9v9.3M478.7,1247.9v9.3" stroke="#707982" stroke-width="0.9" fill="none"/>
<rect x="413.6" y="1090.0" width="41.1" height="10.1" fill="#ecedef" stroke="#59626c" stroke-width="1"/>
<path d="M417.8,1090.0v10.1M421.3,1090.0v10.1M423.6,1090.0v10.1M431.8,1090.0v10.1M440.8,1090.0v10.1M443.9,1090.0v10.1M446.8,1090.0v10.1M449.1,1090.0v10.1" stroke="#59626c" stroke-width="0.9" fill="none"/>
<rect x="415.6" y="1100.5" width="41.1" height="10.1" fill="#ecedef" stroke="#59626c" stroke-width="1"/>
<path d="M421.1,1100.5v10.1M424.6,1100.5v10.1M426.9,1100.5v10.1M435.1,1100.5v10.1M444.2,1100.5v10.1M447.2,1100.5v10.1M450.1,1100.5v10.1M452.4,1100.5v10.1" stroke="#59626c" stroke-width="0.9" fill="none"/>
<rect x="415.6" y="1111.0" width="41.1" height="10.1" fill="#ecedef" stroke="#59626c" stroke-width="1"/>
<path d="M419.9,1111.0v10.1M423.4,1111.0v10.1M425.7,1111.0v10.1M433.9,1111.0v10.1M443.0,1111.0v10.1M446.0,1111.0v10.1M448.9,1111.0v10.1M451.2,1111.0v10.1" stroke="#59626c" stroke-width="0.9" fill="none"/>
<rect x="410.6" y="1121.5" width="40.9" height="10.1" fill="#ecedef" stroke="#59626c" stroke-width="1"/>
<path d="M415.0,1121.5v10.1M418.5,1121.5v10.1M420.7,1121.5v10.1M428.9,1121.5v10.1M437.9,1121.5v10.1M441.0,1121.5v10.1M443.8,1121.5v10.1M446.1,1121.5v10.1" stroke="#59626c" stroke-width="0.9" fill="none"/>
<rect x="415.6" y="1132.0" width="41.1" height="10.1" fill="#ecedef" stroke="#59626c" stroke-width="1"/>
<path d="M421.1,1132.0v10.1M424.6,1132.0v10.1M426.9,1132.0v10.1M435.1,1132.0v10.1M444.1,1132.0v10.1M447.2,1132.0v10.1M450.1,1132.0v10.1M452.3,1132.0v10.1" stroke="#59626c" stroke-width="0.9" fill="none"/>
<rect x="415.6" y="1142.5" width="41.1" height="10.1" fill="#ecedef" stroke="#59626c" stroke-width="1"/>
<path d="M422.4,1142.5v10.1M425.9,1142.5v10.1M428.2,1142.5v10.1M436.4,1142.5v10.1M445.4,1142.5v10.1M448.5,1142.5v10.1M451.4,1142.5v10.1M453.7,1142.5v10.1" stroke="#59626c" stroke-width="0.9" fill="none"/>
<rect x="405.7" y="1152.9" width="40.6" height="10.1" fill="#ecedef" stroke="#59626c" stroke-width="1"/>
<path d="M410.2,1152.9v10.1M413.6,1152.9v10.1M415.8,1152.9v10.1M424.0,1152.9v10.1M432.9,1152.9v10.1M435.9,1152.9v10.1M438.8,1152.9v10.1M441.0,1152.9v10.1" stroke="#59626c" stroke-width="0.9" fill="none"/>
<rect x="410.6" y="1163.4" width="40.9" height="10.1" fill="#ecedef" stroke="#59626c" stroke-width="1"/>
<path d="M415.4,1163.4v10.1M418.9,1163.4v10.1M421.1,1163.4v10.1M429.3,1163.4v10.1M438.3,1163.4v10.1M441.4,1163.4v10.1M444.3,1163.4v10.1M446.5,1163.4v10.1" stroke="#59626c" stroke-width="0.9" fill="none"/>
<rect x="416.4" y="1173.9" width="41.2" height="10.1" fill="#ecedef" stroke="#59626c" stroke-width="1"/>
<path d="M422.6,1173.9v10.1M426.1,1173.9v10.1M428.4,1173.9v10.1M436.6,1173.9v10.1M445.7,1173.9v10.1M448.8,1173.9v10.1M451.6,1173.9v10.1M453.9,1173.9v10.1" stroke="#59626c" stroke-width="0.9" fill="none"/>
<rect x="418.5" y="1184.4" width="40.8" height="10.1" fill="#ecedef" stroke="#59626c" stroke-width="1"/>
<path d="M425.7,1184.4v10.1M429.1,1184.4v10.1M431.4,1184.4v10.1M439.5,1184.4v10.1M448.5,1184.4v10.1M451.6,1184.4v10.1M454.4,1184.4v10.1M456.7,1184.4v10.1" stroke="#59626c" stroke-width="0.9" fill="none"/>
<rect x="418.5" y="1194.9" width="40.8" height="10.1" fill="#ecedef" stroke="#59626c" stroke-width="1"/>
<path d="M424.5,1194.9v10.1M427.9,1194.9v10.1M430.2,1194.9v10.1M438.3,1194.9v10.1M447.3,1194.9v10.1M450.4,1194.9v10.1M453.2,1194.9v10.1M455.5,1194.9v10.1" stroke="#59626c" stroke-width="0.9" fill="none"/>
<rect x="413.3" y="1205.4" width="40.5" height="10.1" fill="#ecedef" stroke="#59626c" stroke-width="1"/>
<path d="M418.6,1205.4v10.1M422.1,1205.4v10.1M424.3,1205.4v10.1M432.4,1205.4v10.1M441.3,1205.4v10.1M444.4,1205.4v10.1M447.2,1205.4v10.1M449.4,1205.4v10.1" stroke="#59626c" stroke-width="0.9" fill="none"/>
<rect x="418.5" y="1215.9" width="40.8" height="10.1" fill="#ecedef" stroke="#59626c" stroke-width="1"/>
<path d="M425.8,1215.9v10.1M429.2,1215.9v10.1M431.5,1215.9v10.1M439.6,1215.9v10.1M448.6,1215.9v10.1M451.7,1215.9v10.1M454.5,1215.9v10.1M456.8,1215.9v10.1" stroke="#59626c" stroke-width="0.9" fill="none"/>
<rect x="418.5" y="1226.4" width="40.8" height="10.1" fill="#ecedef" stroke="#59626c" stroke-width="1"/>
<path d="M422.7,1226.4v10.1M426.2,1226.4v10.1M428.4,1226.4v10.1M436.6,1226.4v10.1M445.6,1226.4v10.1M448.6,1226.4v10.1M451.5,1226.4v10.1M453.7,1226.4v10.1" stroke="#59626c" stroke-width="0.9" fill="none"/>
<rect x="408.6" y="1236.9" width="42.9" height="10.1" fill="#ecedef" stroke="#59626c" stroke-width="1"/>
<path d="M415.8,1236.9v10.1M419.5,1236.9v10.1M421.8,1236.9v10.1M430.4,1236.9v10.1M439.9,1236.9v10.1M443.1,1236.9v10.1M446.1,1236.9v10.1M448.4,1236.9v10.1" stroke="#59626c" stroke-width="0.9" fill="none"/>
<rect x="412.9" y="1247.3" width="41.5" height="10.1" fill="#ecedef" stroke="#59626c" stroke-width="1"/>
<path d="M418.0,1247.3v10.1M421.5,1247.3v10.1M423.8,1247.3v10.1M432.1,1247.3v10.1M441.3,1247.3v10.1M444.4,1247.3v10.1M447.3,1247.3v10.1M449.6,1247.3v10.1" stroke="#59626c" stroke-width="0.9" fill="none"/>
</svg></body></html>
